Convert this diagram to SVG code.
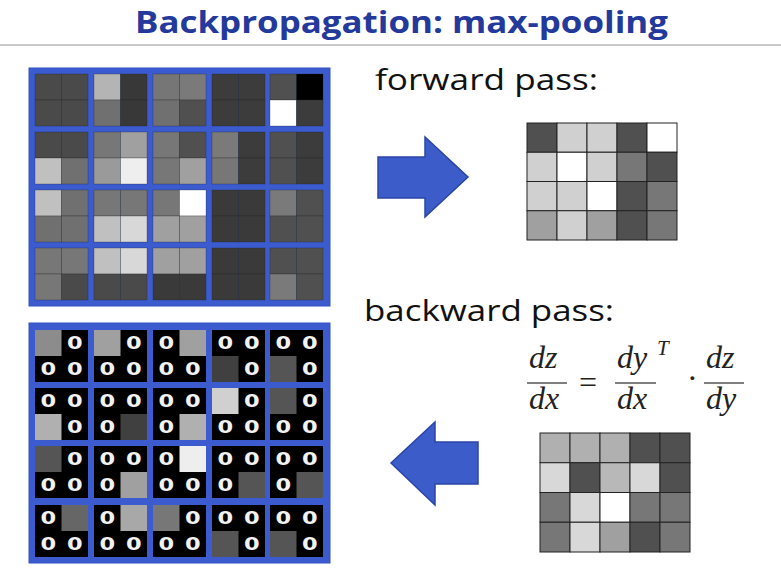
<svg xmlns="http://www.w3.org/2000/svg" width="781" height="570" viewBox="0 0 781 570">
<defs>
<style>
.title{font-family:"Open Sans","Liberation Sans",sans-serif;font-weight:bold;font-size:31px;fill:#24399c}
.lbl{font-family:"Open Sans","Liberation Sans",sans-serif;font-size:30px;fill:#111}
.m{font-family:"Liberation Serif","DejaVu Serif",serif;font-style:italic;font-size:32px;fill:#222}
.mu{font-family:"Liberation Serif","DejaVu Serif",serif;font-size:32px;fill:#222}
.frame{fill:#3b5bcf;stroke:#3353c4;stroke-width:1}
.c{stroke:#222;stroke-opacity:0.35;stroke-width:0.8}
.g{stroke:#222;stroke-width:1}
.blk{fill:#000}
.z{font-family:"DejaVu Sans","Liberation Sans",sans-serif;font-weight:bold;font-size:18px;fill:#f2f2f2;text-anchor:middle}
.arrow{fill:#3c5cca;stroke:#2b45a6;stroke-width:1.5}
.frac{stroke:#555;stroke-width:1.6}
</style>
</defs>
<rect width="781" height="570" fill="#fff"/>
<g id="title">
<text class="title" x="135" y="33" textLength="533" lengthAdjust="spacingAndGlyphs">Backpropagation: max-pooling</text>
<line x1="0" y1="45" x2="781" y2="45" stroke="#b8b8b8" stroke-width="1.5"/>
</g>
<g id="input-grid">
<rect class="frame" x="29" y="68" width="301" height="238"/>
<g class="c">
<rect x="35" y="74" width="26.5" height="26" fill="#4a4a4a"/><rect x="61.5" y="74" width="26.5" height="26" fill="#4a4a4a"/><rect x="35" y="100" width="26.5" height="26" fill="#4a4a4a"/><rect x="61.5" y="100" width="26.5" height="26" fill="#4a4a4a"/>
<rect x="94" y="74" width="26.5" height="26" fill="#b4b4b4"/><rect x="120.5" y="74" width="26.5" height="26" fill="#383838"/><rect x="94" y="100" width="26.5" height="26" fill="#707070"/><rect x="120.5" y="100" width="26.5" height="26" fill="#383838"/>
<rect x="153" y="74" width="26.5" height="26" fill="#767676"/><rect x="179.5" y="74" width="26.5" height="26" fill="#7a7a7a"/><rect x="153" y="100" width="26.5" height="26" fill="#707070"/><rect x="179.5" y="100" width="26.5" height="26" fill="#505050"/>
<rect x="212" y="74" width="26.5" height="26" fill="#3c3c3c"/><rect x="238.5" y="74" width="26.5" height="26" fill="#3c3c3c"/><rect x="212" y="100" width="26.5" height="26" fill="#3c3c3c"/><rect x="238.5" y="100" width="26.5" height="26" fill="#3c3c3c"/>
<rect x="270" y="74" width="26.5" height="26" fill="#505050"/><rect x="296.5" y="74" width="26.5" height="26" fill="#000000"/><rect x="270" y="100" width="26.5" height="26" fill="#ffffff"/><rect x="296.5" y="100" width="26.5" height="26" fill="#3c3c3c"/>

<rect x="35" y="132" width="26.5" height="26" fill="#4a4a4a"/><rect x="61.5" y="132" width="26.5" height="26" fill="#4a4a4a"/><rect x="35" y="158" width="26.5" height="26" fill="#c0c0c0"/><rect x="61.5" y="158" width="26.5" height="26" fill="#707070"/>
<rect x="94" y="132" width="26.5" height="26" fill="#777777"/><rect x="120.5" y="132" width="26.5" height="26" fill="#a0a0a0"/><rect x="94" y="158" width="26.5" height="26" fill="#9a9a9a"/><rect x="120.5" y="158" width="26.5" height="26" fill="#eeeeee"/>
<rect x="153" y="132" width="26.5" height="26" fill="#777777"/><rect x="179.5" y="132" width="26.5" height="26" fill="#505050"/><rect x="153" y="158" width="26.5" height="26" fill="#777777"/><rect x="179.5" y="158" width="26.5" height="26" fill="#a0a0a0"/>
<rect x="212" y="132" width="26.5" height="26" fill="#7a7a7a"/><rect x="238.5" y="132" width="26.5" height="26" fill="#3c3c3c"/><rect x="212" y="158" width="26.5" height="26" fill="#777777"/><rect x="238.5" y="158" width="26.5" height="26" fill="#3c3c3c"/>
<rect x="270" y="132" width="26.5" height="26" fill="#505050"/><rect x="296.5" y="132" width="26.5" height="26" fill="#3c3c3c"/><rect x="270" y="158" width="26.5" height="26" fill="#505050"/><rect x="296.5" y="158" width="26.5" height="26" fill="#3c3c3c"/>

<rect x="35" y="190" width="26.5" height="26" fill="#c0c0c0"/><rect x="61.5" y="190" width="26.5" height="26" fill="#707070"/><rect x="35" y="216" width="26.5" height="26" fill="#707070"/><rect x="61.5" y="216" width="26.5" height="26" fill="#707070"/>
<rect x="94" y="190" width="26.5" height="26" fill="#777777"/><rect x="120.5" y="190" width="26.5" height="26" fill="#777777"/><rect x="94" y="216" width="26.5" height="26" fill="#c0c0c0"/><rect x="120.5" y="216" width="26.5" height="26" fill="#d8d8d8"/>
<rect x="153" y="190" width="26.5" height="26" fill="#777777"/><rect x="179.5" y="190" width="26.5" height="26" fill="#ffffff"/><rect x="153" y="216" width="26.5" height="26" fill="#a0a0a0"/><rect x="179.5" y="216" width="26.5" height="26" fill="#a0a0a0"/>
<rect x="212" y="190" width="26.5" height="26" fill="#3a3a3a"/><rect x="238.5" y="190" width="26.5" height="26" fill="#3a3a3a"/><rect x="212" y="216" width="26.5" height="26" fill="#3a3a3a"/><rect x="238.5" y="216" width="26.5" height="26" fill="#3a3a3a"/>
<rect x="270" y="190" width="26.5" height="26" fill="#7a7a7a"/><rect x="296.5" y="190" width="26.5" height="26" fill="#505050"/><rect x="270" y="216" width="26.5" height="26" fill="#505050"/><rect x="296.5" y="216" width="26.5" height="26" fill="#505050"/>

<rect x="35" y="248" width="26.5" height="26" fill="#777777"/><rect x="61.5" y="248" width="26.5" height="26" fill="#777777"/><rect x="35" y="274" width="26.5" height="26" fill="#777777"/><rect x="61.5" y="274" width="26.5" height="26" fill="#4a4a4a"/>
<rect x="94" y="248" width="26.5" height="26" fill="#c0c0c0"/><rect x="120.5" y="248" width="26.5" height="26" fill="#d8d8d8"/><rect x="94" y="274" width="26.5" height="26" fill="#4a4a4a"/><rect x="120.5" y="274" width="26.5" height="26" fill="#4a4a4a"/>
<rect x="153" y="248" width="26.5" height="26" fill="#a0a0a0"/><rect x="179.5" y="248" width="26.5" height="26" fill="#a0a0a0"/><rect x="153" y="274" width="26.5" height="26" fill="#3a3a3a"/><rect x="179.5" y="274" width="26.5" height="26" fill="#3a3a3a"/>
<rect x="212" y="248" width="26.5" height="26" fill="#3a3a3a"/><rect x="238.5" y="248" width="26.5" height="26" fill="#3a3a3a"/><rect x="212" y="274" width="26.5" height="26" fill="#3a3a3a"/><rect x="238.5" y="274" width="26.5" height="26" fill="#3a3a3a"/>
<rect x="270" y="248" width="26.5" height="26" fill="#505050"/><rect x="296.5" y="248" width="26.5" height="26" fill="#505050"/><rect x="270" y="274" width="26.5" height="26" fill="#7a7a7a"/><rect x="296.5" y="274" width="26.5" height="26" fill="#505050"/>
</g>
</g>
<g id="forward-label"><text class="lbl" x="375" y="90" textLength="223" lengthAdjust="spacingAndGlyphs">forward pass:</text></g>
<g id="connectors">
<polygon id="arrow-forward" class="arrow" points="378,157 425,157 425,137 468,177 425,217 425,198 378,198"/>
<polygon id="arrow-backward" class="arrow" points="478,442 435,442 435,422 391,463 435,505 435,484 478,484"/>
</g>
<g id="pooled-output" class="g">
<rect x="527" y="123" width="30" height="29.25" fill="#505050"/><rect x="557" y="123" width="30" height="29.25" fill="#d0d0d0"/><rect x="587" y="123" width="30" height="29.25" fill="#d0d0d0"/><rect x="617" y="123" width="30" height="29.25" fill="#505050"/><rect x="647" y="123" width="30" height="29.25" fill="#ffffff"/>
<rect x="527" y="152.25" width="30" height="29.25" fill="#d0d0d0"/><rect x="557" y="152.25" width="30" height="29.25" fill="#ffffff"/><rect x="587" y="152.25" width="30" height="29.25" fill="#d0d0d0"/><rect x="617" y="152.25" width="30" height="29.25" fill="#777777"/><rect x="647" y="152.25" width="30" height="29.25" fill="#505050"/>
<rect x="527" y="181.5" width="30" height="29.25" fill="#d0d0d0"/><rect x="557" y="181.5" width="30" height="29.25" fill="#d0d0d0"/><rect x="587" y="181.5" width="30" height="29.25" fill="#ffffff"/><rect x="617" y="181.5" width="30" height="29.25" fill="#505050"/><rect x="647" y="181.5" width="30" height="29.25" fill="#777777"/>
<rect x="527" y="210.75" width="30" height="29.25" fill="#a0a0a0"/><rect x="557" y="210.75" width="30" height="29.25" fill="#d0d0d0"/><rect x="587" y="210.75" width="30" height="29.25" fill="#a0a0a0"/><rect x="617" y="210.75" width="30" height="29.25" fill="#505050"/><rect x="647" y="210.75" width="30" height="29.25" fill="#777777"/>
</g>
<g id="backward-label"><text class="lbl" x="364" y="321" textLength="250" lengthAdjust="spacingAndGlyphs">backward pass:</text></g>
<g id="formula">
<text class="m" x="529" y="368">dz</text>
<line class="frac" x1="527" y1="383" x2="567" y2="383"/>
<text class="m" x="529" y="409">dx</text>
<text class="mu" x="579" y="393">=</text>
<text class="m" x="617" y="368">dy</text>
<text class="m" x="657" y="355" style="font-size:21px">T</text>
<line class="frac" x1="615" y1="383" x2="656" y2="383"/>
<text class="m" x="617" y="409">dx</text>
<text class="mu" x="687" y="389">·</text>
<text class="m" x="706" y="368">dz</text>
<line class="frac" x1="704" y1="383" x2="744" y2="383"/>
<text class="m" x="706" y="409">dy</text>
</g>
<g id="gradient-input" class="g">
<rect x="540" y="433" width="30" height="29.75" fill="#b0b0b0"/><rect x="570" y="433" width="30" height="29.75" fill="#b0b0b0"/><rect x="600" y="433" width="30" height="29.75" fill="#b0b0b0"/><rect x="630" y="433" width="30" height="29.75" fill="#505050"/><rect x="660" y="433" width="30" height="29.75" fill="#505050"/>
<rect x="540" y="462.75" width="30" height="29.75" fill="#d8d8d8"/><rect x="570" y="462.75" width="30" height="29.75" fill="#505050"/><rect x="600" y="462.75" width="30" height="29.75" fill="#b8b8b8"/><rect x="630" y="462.75" width="30" height="29.75" fill="#d8d8d8"/><rect x="660" y="462.75" width="30" height="29.75" fill="#505050"/>
<rect x="540" y="492.5" width="30" height="29.75" fill="#777777"/><rect x="570" y="492.5" width="30" height="29.75" fill="#d8d8d8"/><rect x="600" y="492.5" width="30" height="29.75" fill="#ffffff"/><rect x="630" y="492.5" width="30" height="29.75" fill="#777777"/><rect x="660" y="492.5" width="30" height="29.75" fill="#777777"/>
<rect x="540" y="522.25" width="30" height="29.75" fill="#777777"/><rect x="570" y="522.25" width="30" height="29.75" fill="#d8d8d8"/><rect x="600" y="522.25" width="30" height="29.75" fill="#a0a0a0"/><rect x="630" y="522.25" width="30" height="29.75" fill="#505050"/><rect x="660" y="522.25" width="30" height="29.75" fill="#777777"/>
</g>
<g id="gradient-output">
<rect class="frame" x="29" y="323" width="301" height="240"/>
<g class="blk">
<rect x="35" y="330" width="53" height="52"/><rect x="94" y="330" width="53" height="52"/><rect x="153" y="330" width="53" height="52"/><rect x="212" y="330" width="53" height="52"/><rect x="270" y="330" width="53" height="52"/>
<rect x="35" y="388" width="53" height="52"/><rect x="94" y="388" width="53" height="52"/><rect x="153" y="388" width="53" height="52"/><rect x="212" y="388" width="53" height="52"/><rect x="270" y="388" width="53" height="52"/>
<rect x="35" y="446" width="53" height="52"/><rect x="94" y="446" width="53" height="52"/><rect x="153" y="446" width="53" height="52"/><rect x="212" y="446" width="53" height="52"/><rect x="270" y="446" width="53" height="52"/>
<rect x="35" y="505" width="53" height="52"/><rect x="94" y="505" width="53" height="52"/><rect x="153" y="505" width="53" height="52"/><rect x="212" y="505" width="53" height="52"/><rect x="270" y="505" width="53" height="52"/>
</g>
<g>
<rect x="35" y="330" width="26.5" height="26" fill="#8c8c8c"/>
<rect x="94" y="330" width="26.5" height="26" fill="#a0a0a0"/>
<rect x="179.5" y="330" width="26.5" height="26" fill="#a0a0a0"/>
<rect x="212" y="356" width="26.5" height="26" fill="#404040"/>
<rect x="270" y="356" width="26.5" height="26" fill="#555555"/>
<rect x="35" y="414" width="26.5" height="26" fill="#b0b0b0"/>
<rect x="120.5" y="414" width="26.5" height="26" fill="#404040"/>
<rect x="179.5" y="414" width="26.5" height="26" fill="#b0b0b0"/>
<rect x="212" y="388" width="26.5" height="26" fill="#d0d0d0"/>
<rect x="270" y="388" width="26.5" height="26" fill="#555555"/>
<rect x="35" y="446" width="26.5" height="26" fill="#555555"/>
<rect x="120.5" y="472" width="26.5" height="26" fill="#a0a0a0"/>
<rect x="179.5" y="446" width="26.5" height="26" fill="#eeeeee"/>
<rect x="238.5" y="472" width="26.5" height="26" fill="#555555"/>
<rect x="296.5" y="472" width="26.5" height="26" fill="#555555"/>
<rect x="61.5" y="505" width="26.5" height="26" fill="#666666"/>
<rect x="120.5" y="505" width="26.5" height="26" fill="#a8a8a8"/>
<rect x="153" y="505" width="26.5" height="26" fill="#777777"/>
<rect x="212" y="531" width="26.5" height="26" fill="#555555"/>
<rect x="270" y="531" width="26.5" height="26" fill="#555555"/>
</g>
<g transform="scale(1.25,1)">
<text class="z" x="59.8" y="349.5">0</text><text class="z" x="38.6" y="375.5">0</text><text class="z" x="59.8" y="375.5">0</text>
<text class="z" x="107" y="349.5">0</text><text class="z" x="85.8" y="375.5">0</text><text class="z" x="107" y="375.5">0</text>
<text class="z" x="133" y="349.5">0</text><text class="z" x="133" y="375.5">0</text><text class="z" x="154.2" y="375.5">0</text>
<text class="z" x="180.2" y="349.5">0</text><text class="z" x="201.4" y="349.5">0</text><text class="z" x="201.4" y="375.5">0</text>
<text class="z" x="226.6" y="349.5">0</text><text class="z" x="247.8" y="349.5">0</text><text class="z" x="247.8" y="375.5">0</text>

<text class="z" x="38.6" y="407.5">0</text><text class="z" x="59.8" y="407.5">0</text><text class="z" x="59.8" y="433.5">0</text>
<text class="z" x="85.8" y="407.5">0</text><text class="z" x="107" y="407.5">0</text><text class="z" x="85.8" y="433.5">0</text>
<text class="z" x="133" y="407.5">0</text><text class="z" x="154.2" y="407.5">0</text><text class="z" x="133" y="433.5">0</text>
<text class="z" x="201.4" y="407.5">0</text><text class="z" x="180.2" y="433.5">0</text><text class="z" x="201.4" y="433.5">0</text>
<text class="z" x="247.8" y="407.5">0</text><text class="z" x="226.6" y="433.5">0</text><text class="z" x="247.8" y="433.5">0</text>

<text class="z" x="59.8" y="465.5">0</text><text class="z" x="38.6" y="491.5">0</text><text class="z" x="59.8" y="491.5">0</text>
<text class="z" x="85.8" y="465.5">0</text><text class="z" x="107" y="465.5">0</text><text class="z" x="85.8" y="491.5">0</text>
<text class="z" x="133" y="465.5">0</text><text class="z" x="133" y="491.5">0</text><text class="z" x="154.2" y="491.5">0</text>
<text class="z" x="180.2" y="465.5">0</text><text class="z" x="201.4" y="465.5">0</text><text class="z" x="180.2" y="491.5">0</text>
<text class="z" x="226.6" y="465.5">0</text><text class="z" x="247.8" y="465.5">0</text><text class="z" x="226.6" y="491.5">0</text>

<text class="z" x="38.6" y="524.5">0</text><text class="z" x="38.6" y="550.5">0</text><text class="z" x="59.8" y="550.5">0</text>
<text class="z" x="85.8" y="524.5">0</text><text class="z" x="85.8" y="550.5">0</text><text class="z" x="107" y="550.5">0</text>
<text class="z" x="154.2" y="524.5">0</text><text class="z" x="133" y="550.5">0</text><text class="z" x="154.2" y="550.5">0</text>
<text class="z" x="180.2" y="524.5">0</text><text class="z" x="201.4" y="524.5">0</text><text class="z" x="201.4" y="550.5">0</text>
<text class="z" x="226.6" y="524.5">0</text><text class="z" x="247.8" y="524.5">0</text><text class="z" x="247.8" y="550.5">0</text>
</g>
</g>
</svg>
